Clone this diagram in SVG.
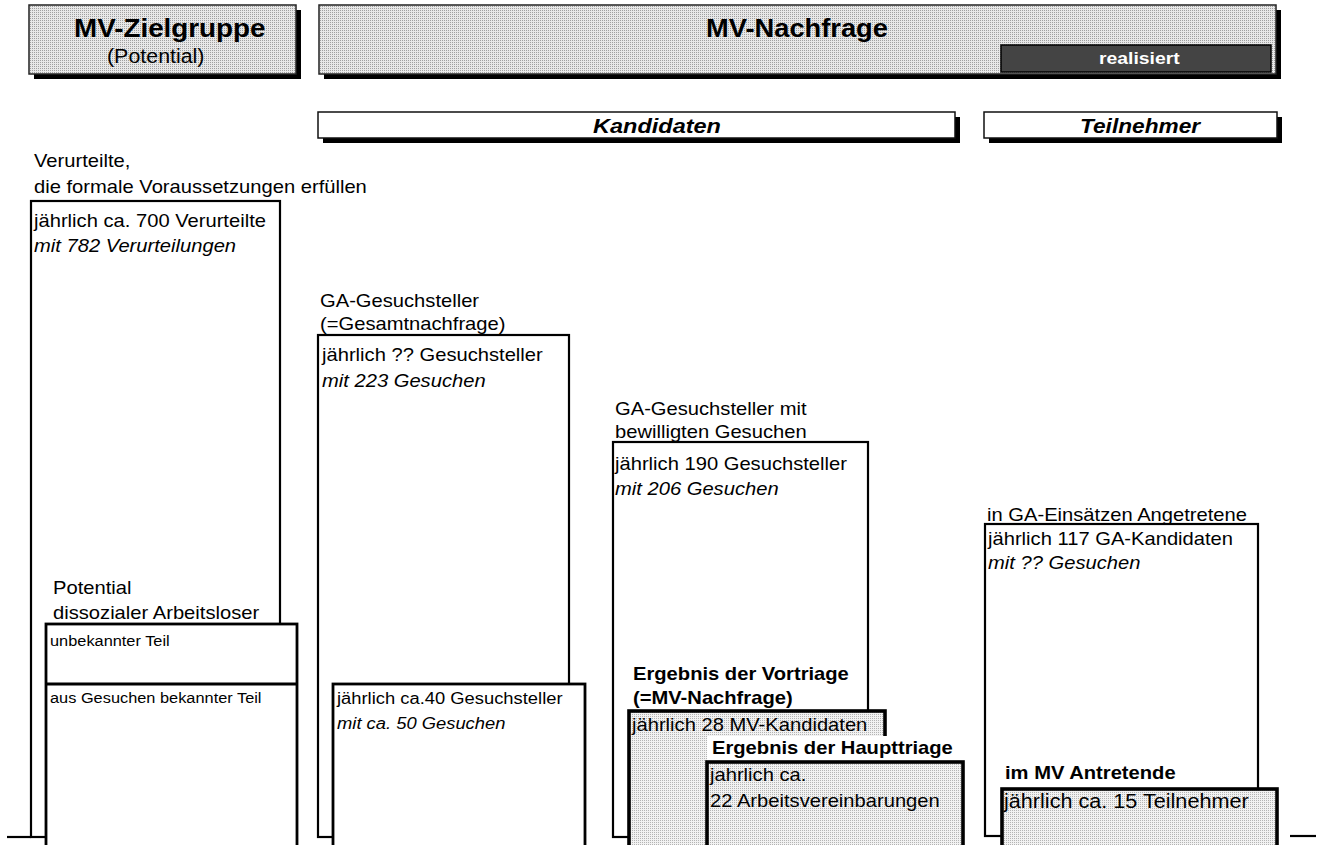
<svg xmlns="http://www.w3.org/2000/svg" width="1325" height="845" viewBox="0 0 1325 845">
  <defs>
    <!-- dithered grey fills -->
    <pattern id="dither" width="2" height="2" patternUnits="userSpaceOnUse">
      <rect width="2" height="2" fill="#e8e8e8"/>
      <rect width="1" height="1" fill="#a0a0a0"/>
    </pattern>
    <pattern id="ditherLight" width="2" height="2" patternUnits="userSpaceOnUse">
      <rect width="2" height="2" fill="#f2f2f2"/>
      <rect width="1" height="1" fill="#b4b4b4"/>
    </pattern>
  </defs>
  <style>
    text { font-family: "Liberation Sans", Arial, Helvetica, sans-serif; font-size: 18px; fill: #000; }
    .it { font-style: italic; }
    .bd { font-weight: bold; }
    .sm { font-size: 14.6px; }
    .md { font-size: 16.4px; }
    .lg { font-size: 19.3px; }
    .ttl { font-size: 26px; font-weight: bold; }
    .sub { font-size: 20px; }
    .bar { font-size: 21px; font-weight: bold; font-style: italic; }
    .rl { font-size: 17px; font-weight: bold; fill: #fff; }
    .shadow { fill: #000; }
    .head { fill: url(#dither); stroke: #222; stroke-width: 1.5; }
    .band { fill: #fff; stroke: #111; stroke-width: 1.5; }
    .outer { fill: #fff; stroke: #000; stroke-width: 2.2; }
    .inner { fill: #fff; stroke: #000; stroke-width: 2.8; }
    .grey { fill: url(#ditherLight); stroke: #000; stroke-width: 3.6; }
    .tick { stroke: #000; stroke-width: 2.2; }
  </style>

  <rect width="1325" height="845" fill="#fff"/>

  <!-- header: target group -->
  <g id="head-zielgruppe">
    <rect class="shadow" x="34" y="10" width="267" height="69"/>
    <rect class="head" x="29" y="5" width="267" height="69"/>
    <text class="ttl" transform="translate(74 37) scale(1.07 1)">MV-Zielgruppe</text>
    <text class="sub" transform="translate(107 63) scale(1.07 1)">(Potential)</text>
  </g>

  <!-- header: demand -->
  <g id="head-nachfrage">
    <rect class="shadow" x="324" y="10" width="957" height="69"/>
    <rect class="head" x="319" y="5" width="957" height="69"/>
    <text class="ttl" transform="translate(706 37) scale(1.05 1)">MV-Nachfrage</text>
    <rect x="1001" y="45" width="270" height="27" fill="#444" stroke="#000" stroke-width="1.5"/>
    <text class="rl" transform="translate(1099 64) scale(1.14 1)">realisiert</text>
  </g>

  <!-- section bands -->
  <g id="band-kandidaten">
    <rect class="shadow" x="323" y="117" width="637" height="26"/>
    <rect class="band" x="318" y="112" width="637" height="26"/>
    <text class="bar" transform="translate(593 133) scale(1.12 1)">Kandidaten</text>
  </g>
  <g id="band-teilnehmer">
    <rect class="shadow" x="989" y="117" width="293" height="26"/>
    <rect class="band" x="984" y="112" width="293" height="26"/>
    <text class="bar" transform="translate(1080 133) scale(1.08 1)">Teilnehmer</text>
  </g>

  <!-- baseline ticks -->
  <g id="axis">
    <line class="tick" x1="7" y1="837" x2="31" y2="837"/>
    <line class="tick" x1="1290" y1="836" x2="1316" y2="836"/>
  </g>

  <!-- column 1: convicted persons -->
  <g id="col-verurteilte">
    <text transform="translate(34 167) scale(1.12 1)">Verurteilte,</text>
    <text transform="translate(34 193) scale(1.12 1)">die formale Voraussetzungen erfüllen</text>
    <rect class="outer" x="31" y="201" width="249" height="636"/>
    <text transform="translate(34 227) scale(1.12 1)">jährlich ca. 700 Verurteilte</text>
    <text class="it" transform="translate(34 252) scale(1.12 1)">mit 782 Verurteilungen</text>
  </g>

  <g id="col-potential">
    <text transform="translate(53 594) scale(1.12 1)">Potential</text>
    <text transform="translate(53 619) scale(1.12 1)">dissozialer Arbeitsloser</text>
    <rect class="inner" x="46" y="624" width="251" height="240"/>
    <line x1="46" y1="684" x2="297" y2="684" stroke="#000" stroke-width="2.8"/>
    <text class="sm" transform="translate(50 646) scale(1.12 1)">unbekannter Teil</text>
    <text class="sm" transform="translate(50 703) scale(1.12 1)">aus Gesuchen bekannter Teil</text>
  </g>

  <!-- column 2: applicants -->
  <g id="col-gesuchsteller">
    <text transform="translate(320 307) scale(1.12 1)">GA-Gesuchsteller</text>
    <text transform="translate(320 330) scale(1.12 1)">(=Gesamtnachfrage)</text>
    <rect class="outer" x="318" y="335" width="251" height="502"/>
    <text transform="translate(322 361) scale(1.12 1)">jährlich ?? Gesuchsteller</text>
    <text class="it" transform="translate(322 387) scale(1.12 1)">mit 223 Gesuchen</text>
  </g>

  <g id="col-gesuchsteller-teil">
    <rect class="inner" x="333" y="684" width="252" height="180"/>
    <text class="md" transform="translate(337 704) scale(1.12 1)">jährlich ca.40 Gesuchsteller</text>
    <text class="md it" transform="translate(337 729) scale(1.12 1)">mit ca. 50 Gesuchen</text>
  </g>

  <!-- column 3: approved applications -->
  <g id="col-bewilligt">
    <text transform="translate(615 415) scale(1.12 1)">GA-Gesuchsteller mit</text>
    <text transform="translate(615 438) scale(1.12 1)">bewilligten Gesuchen</text>
    <rect class="outer" x="613" y="442" width="255" height="395"/>
    <text transform="translate(615 470) scale(1.12 1)">jährlich 190 Gesuchsteller</text>
    <text class="it" transform="translate(615 495) scale(1.12 1)">mit 206 Gesuchen</text>
  </g>

  <g id="col-vortriage">
    <text class="bd" transform="translate(633 680) scale(1.12 1)">Ergebnis der Vortriage</text>
    <text class="bd" transform="translate(633 704) scale(1.12 1)">(=MV-Nachfrage)</text>
    <rect class="grey" x="629" y="711" width="256" height="160"/>
    <text transform="translate(632 731) scale(1.12 1)">jährlich 28 MV-Kandidaten</text>
  </g>

  <g id="col-haupttriage">
    <rect x="707" y="736" width="256" height="26" fill="#fff"/>
    <text class="bd" transform="translate(712 754) scale(1.12 1)">Ergebnis der Haupttriage</text>
    <rect class="grey" x="707" y="762" width="256" height="110"/>
    <text transform="translate(710 781) scale(1.12 1)">jahrlich ca.</text>
    <text transform="translate(710 807) scale(1.12 1)">22 Arbeitsvereinbarungen</text>
  </g>

  <!-- column 4: participants -->
  <g id="col-angetretene">
    <text transform="translate(987 521) scale(1.12 1)">in GA-Einsätzen Angetretene</text>
    <rect class="outer" x="985" y="524" width="273" height="312"/>
    <text transform="translate(988 545) scale(1.12 1)">jährlich 117 GA-Kandidaten</text>
    <text class="it" transform="translate(988 569) scale(1.12 1)">mit ?? Gesuchen</text>
  </g>

  <g id="col-antretende">
    <text class="bd" transform="translate(1005 779) scale(1.12 1)">im MV Antretende</text>
    <rect class="grey" x="1002" y="789" width="275" height="80"/>
    <text class="lg" transform="translate(1004 808) scale(1.12 1)">jährlich ca. 15 Teilnehmer</text>
  </g>
</svg>
